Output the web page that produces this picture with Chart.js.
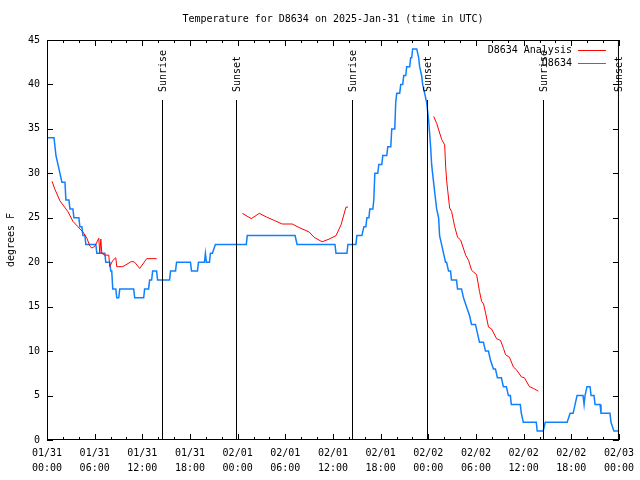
<!DOCTYPE html>
<html>
<head>
<meta charset="utf-8">
<script src="https://cdn.jsdelivr.net/npm/chart.js@4.4.1/dist/chart.umd.min.js"></script>
<style>
  html, body { margin: 0; padding: 0; background: #fff; }
</style>
</head>
<body>
<canvas id="tempChart" width="640" height="480"></canvas>
<script>
// hours since 01/31 00:00 UTC
const obsHours = [0.13, 0.88, 1.13, 1.38, 1.63, 1.88, 2.26, 2.38, 2.76, 2.89, 3.26, 3.39, 4.01, 4.14, 4.39, 4.52, 4.77, 4.89,
  6.15, 6.27, 7.28, 7.40, 7.90, 8.03, 8.15, 8.28, 8.66, 8.78, 9.03, 9.16, 10.91, 11.04, 12.17, 12.29, 12.79, 12.92, 13.17,
  13.30, 13.80, 13.92, 15.43, 15.55, 16.18, 16.31, 18.06, 18.19, 18.94, 19.07, 19.82, 19.94, 20.07, 20.45, 20.57, 20.82,
  21.20, 25.09, 25.21, 31.23, 31.48, 36.25, 36.38, 37.76, 37.88, 38.89, 39.01, 39.64, 39.89, 40.14, 40.27, 40.52, 40.64,
  41.02, 41.14, 41.27, 41.64, 41.77, 42.15, 42.27, 42.77, 42.90, 43.28, 43.40, 43.78, 43.90, 44.03, 44.40, 44.53, 44.78,
  44.91, 45.16, 45.28, 45.66, 45.78, 45.91, 46.03, 46.54, 46.79, 46.91, 47.16, 47.29, 47.54, 47.79, 48.04, 48.29, 48.42,
  48.54, 48.79, 48.92, 49.05, 49.30, 49.42, 49.67, 49.92, 50.17, 50.30, 50.55, 50.80, 50.92, 51.55, 51.68, 52.18, 52.43,
  52.81, 53.19, 53.44, 53.94, 54.19, 54.44, 54.94, 55.20, 55.57, 55.82, 56.20, 56.45, 56.70, 57.20, 57.45, 57.83, 58.08,
  58.33, 58.45, 59.58, 59.71, 59.96, 61.59, 61.71, 62.47, 62.72, 65.48, 65.85, 66.23, 66.48, 66.73, 67.36, 67.48, 67.61,
  67.73, 67.98, 68.36, 68.49, 68.86, 68.99, 69.62, 69.74, 70.87, 71.00, 71.37, 71.87];
const obsTemps = [34, 34, 32, 31, 30, 29, 29, 27, 27, 26, 26, 25, 25, 24, 24, 23, 23, 22,
  22, 21, 21, 20, 20, 19, 19, 17, 17, 16, 16, 17, 17, 16, 16, 17, 17, 18, 18,
  19, 19, 18, 18, 19, 19, 20, 20, 19, 19, 20, 20, 21, 20, 20, 21, 21,
  22, 22, 23, 23, 22, 22, 21, 21, 22, 22, 23, 23, 24, 24, 25, 25, 26,
  26, 27, 30, 30, 31, 31, 32, 32, 33, 33, 35, 35, 38, 39, 39, 40, 40,
  41, 41, 42, 42, 43, 43, 44, 44, 43, 42, 41, 40, 39, 38, 36, 33, 31,
  30, 28, 27, 26, 25, 23, 22, 21, 20, 20, 19, 19, 18, 18, 17, 17, 16,
  15, 14, 13, 13, 12, 11, 11, 10, 10, 9, 8, 8, 7, 7, 6, 6, 5,
  5, 4, 4, 3, 2, 2, 1, 1, 2, 2, 3, 3, 4, 5, 5, 5, 4,
  5, 6, 6, 5, 5, 4, 4, 3, 3, 2, 1, 1];

// analysis has gaps (null)
const anaHours = [0.63, 1.00, 1.63, 2.63, 3.26, 3.89, 4.52, 5.02, 5.40, 5.65, 6.02, 6.52, 6.65, 6.78, 6.90, 7.28, 7.78,
  7.90, 8.28, 8.66, 8.78, 9.54, 10.66, 11.04, 11.67, 12.55, 13.80, 14.0,
  24.59, 25.72, 26.73, 27.60, 28.61, 29.61, 30.87, 31.74, 33.00, 33.63, 34.63, 35.51, 36.39, 37.01, 37.64, 37.89, 43.0,
  48.68, 49.06, 49.69, 50.06, 50.19, 50.31, 50.44, 50.69, 50.94, 51.32, 51.69, 52.07, 52.70, 53.07, 53.45, 54.08, 54.45,
  54.71, 54.96, 55.21, 55.58, 55.96, 56.59, 57.09, 57.47, 57.72, 58.22, 58.72, 59.10, 59.72, 60.10, 60.73, 61.23, 61.86];
const anaTemps = [29.1, 28.2, 26.9, 25.7, 24.6, 24.0, 23.4, 22.7, 21.8, 21.6, 21.8, 22.7, 21.0, 22.6, 21.0, 20.8, 20.8,
  19.5, 20.2, 20.5, 19.5, 19.5, 20.1, 20.0, 19.3, 20.4, 20.4, null,
  25.5, 24.9, 25.5, 25.1, 24.7, 24.3, 24.3, 23.9, 23.4, 22.8, 22.3, 22.6, 23.0, 24.2, 26.2, 26.2, null,
  36.4, 35.6, 33.8, 33.2, 30.7, 29.2, 28.1, 26.1, 25.7, 24.0, 22.8, 22.5, 20.8, 20.2, 19.1, 18.6, 16.7,
  15.6, 15.3, 14.3, 12.7, 12.5, 11.4, 11.2, 10.3, 9.6, 9.3, 8.2, 7.9, 7.1, 7.0, 6.0, 5.8, 5.5];

const sunHours = [14.43, 23.84, 38.39, 47.79, 62.47, 71.87];
const sunLabels = ["Sunrise", "Sunset", "Sunrise", "Sunset", "Sunrise", "Sunset"];
const dayLabels = ["01/31", "02/01", "02/02", "02/03"];

const FONT = "'DejaVu Sans Mono', 'Liberation Mono', monospace";
const toPoints = (xs, ys) => xs.map((h, i) => ({ x: h, y: ys[i] }));

// gnuplot-ish decorations: border, inward ticks, title, legend, sun lines
const decor = {
  id: "decor",
  afterDatasetsDraw(chart) {
    const { ctx, chartArea: a, scales: { x, y } } = chart;
    ctx.save();
    ctx.strokeStyle = "#000";
    ctx.lineWidth = 1;
    ctx.fillStyle = "#000";
    ctx.font = "10px " + FONT;

    // sunrise / sunset
    const lineTop = Math.round(y.getPixelForValue(38.3));
    sunHours.forEach((h, i) => {
      const px = Math.round(x.getPixelForValue(h)) + 0.5;
      ctx.beginPath();
      ctx.moveTo(px, lineTop);
      ctx.lineTo(px, a.bottom);
      ctx.stroke();
      ctx.save();
      ctx.translate(px + 1, lineTop - 8);
      ctx.rotate(-Math.PI / 2);
      ctx.textAlign = "left";
      ctx.textBaseline = "middle";
      ctx.fillText(sunLabels[i], 0, 0);
      ctx.restore();
    });

    // border
    ctx.strokeRect(a.left + 0.5, a.top + 0.5, a.right - a.left - 1, a.bottom - a.top - 1);

    // ticks
    ctx.beginPath();
    for (let h = 0; h <= 72; h += 2) {
      const px = Math.round(x.getPixelForValue(h)) + 0.5;
      const len = h % 6 === 0 ? 6 : 3;
      ctx.moveTo(px, a.bottom); ctx.lineTo(px, a.bottom - len);
      ctx.moveTo(px, a.top); ctx.lineTo(px, a.top + len);
    }
    for (let v = 0; v <= 45; v += 5) {
      const py = Math.round(y.getPixelForValue(v)) + 0.5;
      ctx.moveTo(a.left, py); ctx.lineTo(a.left + 6, py);
      ctx.moveTo(a.right, py); ctx.lineTo(a.right - 6, py);
    }
    ctx.stroke();

    // title
    ctx.textAlign = "center";
    ctx.textBaseline = "middle";
    ctx.fillText("Temperature for D8634 on 2025-Jan-31 (time in UTC)", (a.left + a.right) / 2, 19);

    // y axis label
    ctx.save();
    ctx.translate(11, (a.top + a.bottom) / 2);
    ctx.rotate(-Math.PI / 2);
    ctx.fillText("degrees F", 0, 0);
    ctx.restore();

    // legend
    chart.data.datasets.forEach((ds, i) => {
      const ly = a.top + 10 + i * 13;
      ctx.textAlign = "right";
      ctx.fillStyle = "#000";
      ctx.fillText(ds.label, a.right - 47, ly);
      ctx.strokeStyle = ds.borderColor;
      ctx.beginPath();
      ctx.moveTo(a.right - 41, ly + 0.5);
      ctx.lineTo(a.right - 13, ly + 0.5);
      ctx.stroke();
    });
    ctx.restore();
  }
};

new Chart(document.getElementById("tempChart"), {
  type: "line",
  data: {
    datasets: [
      {
        label: "D8634 Analysis",
        data: toPoints(anaHours, anaTemps),
        borderColor: "#ff0000",
        borderWidth: 1,
        pointRadius: 0,
        spanGaps: false,
        tension: 0
      },
      {
        label: "D8634",
        data: toPoints(obsHours, obsTemps),
        borderColor: "#1080ff",
        borderWidth: 1.5,
        pointRadius: 0,
        tension: 0
      }
    ]
  },
  options: {
    responsive: false,
    animation: false,
    devicePixelRatio: 1,
    layout: { padding: { top: 40, right: 18, left: 0, bottom: 0 } },
    plugins: {
      legend: { display: false },
      title: { display: false },
      tooltip: { enabled: false }
    },
    scales: {
      x: {
        type: "linear",
        min: 0,
        max: 72,
        afterFit(s) { s.height = 40; },
        grid: { display: false, drawTicks: false },
        border: { display: false },
        ticks: {
          stepSize: 6,
          autoSkip: false,
          maxRotation: 0,
          padding: 6,
          color: "#000",
          font: { family: FONT, size: 10, lineHeight: 1.5 },
          callback: v => [dayLabels[Math.floor(v / 24)], String(v % 24).padStart(2, "0") + ":00"]
        }
      },
      y: {
        min: 0,
        max: 45,
        afterFit(s) { s.width = 47; },
        grid: { display: false, drawTicks: false },
        border: { display: false },
        ticks: {
          stepSize: 5,
          padding: 7,
          color: "#000",
          font: { family: FONT, size: 10 }
        }
      }
    }
  },
  plugins: [decor]
});
</script>
</body>
</html>
